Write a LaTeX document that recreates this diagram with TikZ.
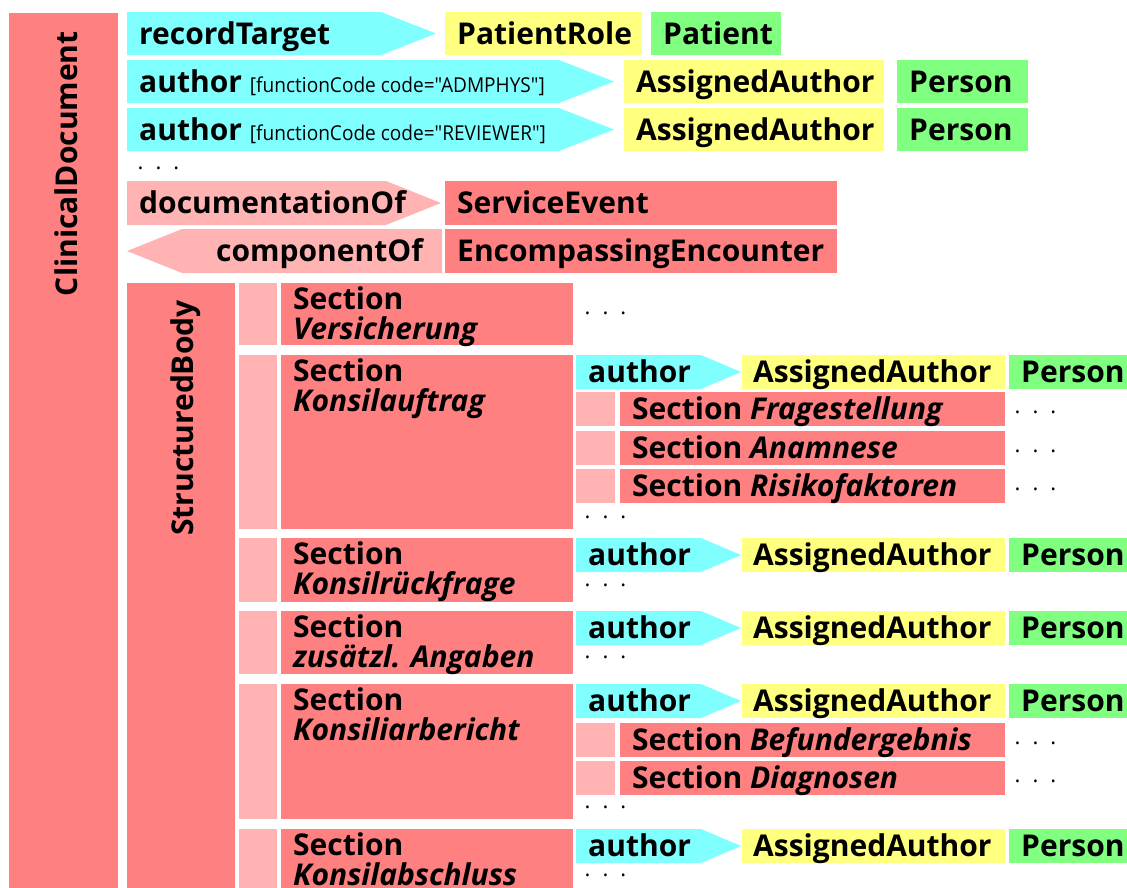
\documentclass[tikz,border=0pt]{standalone}
\usepackage{fontspec}
\setmainfont{Open Sans}
\newfontfamily\fcfont{Open Sans}[Ligatures=TeXOff]
\definecolor{cdred}{HTML}{FF8080}
\definecolor{cdpink}{HTML}{FFB3B3}
\definecolor{cdcyan}{HTML}{80FFFF}
\definecolor{cdyellow}{HTML}{FFFF80}
\definecolor{cdgreen}{HTML}{80FF80}
\tikzset{
  box/.style={rectangle, fill=#1, inner sep=0pt, outer sep=0pt, anchor=north west},
  lbl/.style={anchor=base west, inner sep=0pt, font=\fontsize{30}{34}\selectfont\bfseries},
  dots/.style={anchor=base west, inner sep=0pt, font=\fontsize{22}{24}\selectfont},
}
% box: name, colour, x1, y1, x2, y2 (pixels, y downwards)
\newcommand\bx[6]{\node[box=#2, minimum width={#5-#3}, minimum height={#6-#4}] (#1) at (#3,#4) {};}
% arrow box pointing right: colour, x1, y1, x2, tip, y2, name of west point
\newcommand\rarr[7]{\fill[#1] (#2,#3) -- (#4,#3) -- (#5,{(#3+#6)/2}) -- (#4,#6) -- (#2,#6) -- cycle;
  \coordinate (#7) at (#2,{(#3+#6)/2});}
\newcommand\ddd{.\hspace{12pt}.\hspace{12pt}.}
\newcommand\fcode[1]{{\fcfont\mdseries\fontsize{20.5}{24}\selectfont\scalebox{0.93}[1]{[functionCode code="#1"]}}}
\begin{document}
\begin{tikzpicture}[x=1pt, y=-1pt]
\useasboundingbox (0,0) rectangle (1127,887);
\clip (0,0) rectangle (1127,887);
\fill[white] (0,0) rectangle (1127,887);

\bx{cd}{cdred}{8.6}{12.5}{118}{900}
\node[lbl, rotate=90, anchor=base east] (cdl) at (77,31) {ClinicalDocument};

\rarr{cdcyan}{127}{12}{381}{436}{55}{rt}
\node[lbl] (rtl) at ([xshift=12pt,yshift=-10.5pt]rt) {recordTarget};
\bx{prole}{cdyellow}{445}{12}{642}{55}
\node[lbl] at ([xshift=12pt,yshift=-10.5pt]prole.west) {PatientRole};
\bx{pat}{cdgreen}{651}{12}{781}{55}
\node[lbl] at ([xshift=12pt,yshift=-10.5pt]pat.west) {Patient};

\foreach \t/\c/\n in {60/ADMPHYS/a, 108/REVIEWER/b}{
  \rarr{cdcyan}{127}{\t}{559}{614}{\t+43}{au\n}
  \node[lbl] (aul\n) at ([xshift=12pt,yshift=-10.5pt]au\n) {author\hspace{8pt}\fcode{\c}};
  \bx{aa\n}{cdyellow}{624}{\t}{884}{\t+43}
  \node[lbl] at ([xshift=12pt,yshift=-10.5pt]aa\n.west) {AssignedAuthor};
  \bx{ap\n}{cdgreen}{897}{\t}{1028}{\t+43}
  \node[lbl] at ([xshift=12pt,yshift=-10.5pt]ap\n.west) {Person};
}
\node[dots] (d0) at (137.5,169.5) {\ddd};

\rarr{cdpink}{127}{181}{386}{441}{225}{doc}
\node[lbl] at ([xshift=12pt,yshift=-10.5pt]doc) {documentationOf};
\bx{se}{cdred}{445}{181}{837}{225}
\node[lbl] at ([xshift=12pt,yshift=-10.5pt]se.west) {ServiceEvent};
\fill[cdpink] (127,251) -- (182,229) -- (442,229) -- (442,273) -- (182,273) -- cycle;
\coordinate (co) at (182,251);
\node[lbl] at ([xshift=34pt,yshift=-10.5pt]co) {componentOf};
\bx{ee}{cdred}{445}{229}{837}{273}
\node[lbl] at ([xshift=12pt,yshift=-10.5pt]ee.west) {EncompassingEncounter};

\bx{sb}{cdred}{127}{283}{235}{900}
\node[lbl, rotate=90, anchor=base east] (sbl) at (193,300) {StructuredBody};

\foreach \t/\b/\n/\s in {283/345/1/Versicherung, 355/529/2/Konsilauftrag, 538/602/3/Konsilrückfrage,
    611/674/4/zusätzl. Angaben, 684/819/5/Konsiliarbericht, 829/900/6/Konsilabschluss}{
  \bx{sp\n}{cdpink}{239}{\t}{277}{\b}
  \bx{s\n}{cdred}{281}{\t}{573}{\b}
  \node[lbl] at ([xshift=12pt,yshift=-26pt]s\n.north west) {Section};
  \node[lbl] at ([xshift=12pt,yshift=-56pt]s\n.north west) {\itshape\s};
}
\node[dots] at (584.5,314.5) {\ddd};

\foreach \t/\n in {355/a, 538/b, 611/c, 684/d, 829/e}{
  \rarr{cdcyan}{576}{\t}{701}{741}{\t+34}{sa\n}
  \node[lbl] at ([xshift=12pt,yshift=-10.5pt]sa\n) {author};
  \bx{saa\n}{cdyellow}{742}{\t}{1005}{\t+34}
  \node[lbl] at ([xshift=11pt,yshift=-10.5pt]saa\n.west) {AssignedAuthor};
  \bx{sap\n}{cdgreen}{1009}{\t}{1160}{\t+34}
  \node[lbl] at ([xshift=12pt,yshift=-10.5pt]sap\n.west) {Person};
}

\foreach \t/\n/\s in {392/f/Fragestellung, 430.5/g/Anamnese, 469/h/Risikofaktoren, 723/i/Befundergebnis, 761/j/Diagnosen}{
  \bx{ssp\n}{cdpink}{576}{\t}{615}{\t+34}
  \bx{ss\n}{cdred}{620}{\t}{1005}{\t+34}
  \node[lbl] at ([xshift=12pt,yshift=-10.5pt]ss\n.west) {Section \textit{\s}};
  \node[dots] at ([xshift=9.5pt,yshift=-4.5pt]ss\n.east) {\ddd};
}
\foreach \y in {518.5, 586.5, 658.5, 808.5, 876.5}
  \node[dots] at (584.5,\y) {\ddd};
\end{tikzpicture}
\end{document}
